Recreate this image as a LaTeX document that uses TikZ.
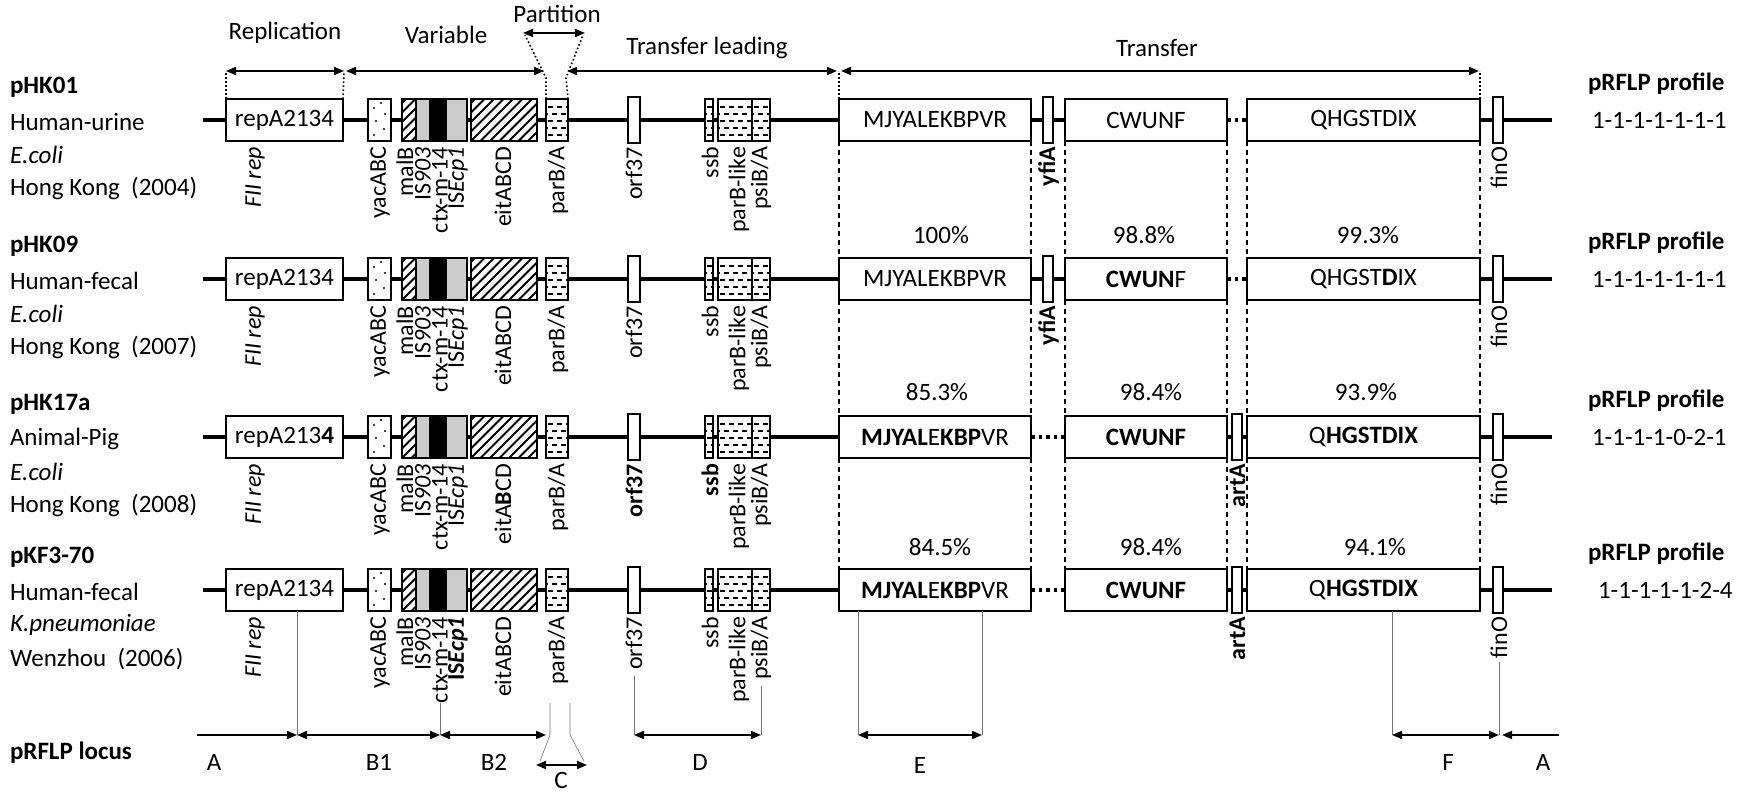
\documentclass[tikz,border=0pt]{standalone}
\usepackage{fontspec}
\setmainfont{Carlito}
\usetikzlibrary{arrows.meta,calc}
\pgfdeclarelayer{bg}
\pgfsetlayers{bg,main}
\begin{document}
\begin{tikzpicture}[x=1pt,y=-1pt,
  every node/.style={inner sep=0pt, outer sep=0pt, font=\fontsize{25}{28}\selectfont},
  bb/.style={line width=3.6pt},
  gene/.style={draw, line width=1.5pt, fill=white, minimum height=42pt, anchor=west},
  sgene/.style={draw, line width=1.5pt, fill=white, minimum height=46pt, anchor=west},
  glab/.style={rotate=90, anchor=east, font=\fontsize{24}{24}\selectfont},
  hatch/.style={path picture={\foreach \k in {-6,...,10}{\draw[black, line width=2pt] ([xshift=\k*9.5]path picture bounding box.south west) -- ++(60,-60);}}},
  dotsfill/.style={path picture={\foreach \a/\b in {6/6,16/12,8/20,17/27,6/33,13/38}{\fill[black] ([xshift=\a,yshift=\b]path picture bounding box.south west) circle (1.2pt);}}},
  dashfill/.style={path picture={
     \foreach \r in {6,20,34}{\draw[black, line width=1.1pt, dash pattern=on 5pt off 4pt] ([xshift=2,yshift=\r]path picture bounding box.south west) -- ++(60,0);}
     \foreach \r in {13,27}{\draw[black, line width=1.1pt, dash pattern=on 5pt off 4pt] ([xshift=-3,yshift=\r]path picture bounding box.south west) -- ++(60,0);}}},
  compfill/.style={path picture={
     \fill[black!20] ([xshift=14]path picture bounding box.south west) rectangle (path picture bounding box.north east);
     \fill[black] ([xshift=27]path picture bounding box.south west) rectangle ([xshift=45]path picture bounding box.north west);
     \begin{scope}
       \clip (path picture bounding box.south west) rectangle ([xshift=14]path picture bounding box.north west);
       \foreach \k in {-5,...,2}{\draw[black, line width=2pt] ([xshift=\k*9.5]path picture bounding box.south west) -- ++(60,-60);}
     \end{scope}
     \draw[black, line width=1.2pt] ([xshift=14]path picture bounding box.south west) -- ([xshift=14]path picture bounding box.north west);}},
  dotline/.style={line width=1.6pt, dash pattern=on 1.6pt off 2.4pt},
  dashline/.style={line width=1.1pt, dash pattern=on 5pt off 4pt},
  conn/.style={line width=3.6pt, dash pattern=on 3.6pt off 4pt},
  arr/.style={line width=1.8pt, {Triangle[length=10pt,width=8pt]}-{Triangle[length=10pt,width=8pt]}},
  arrr/.style={line width=1.8pt, -{Triangle[length=10pt,width=8pt]}},
  lline/.style={line width=0.6pt, black!55},
  bfn/.style={font=\bfseries\fontsize{25}{28}\selectfont}
]
\useasboundingbox (0,0) rectangle (1738,794);

% ---------------- rows ----------------
\foreach \i/\y/\rt/\ect/\et/\ot/\st/\mt/\ct/\qt in {
 1/120/{repA2134}/{IS\textit{Ecp1}}/{eitABCD}/{orf37}/{ssb}/{MJYALEKBPVR}/{CWUNF}/{QHGSTDIX},
 2/279/{repA2134}/{IS\textit{Ecp1}}/{eitABCD}/{orf37}/{ssb}/{MJYALEKBPVR}/{\textbf{CWUN}F}/{QHGST\textbf{D}IX},
 3/437/{repA213\textbf{4}}/{IS\textit{Ecp1}}/{eitA\textbf{B}CD}/{\textbf{orf37}}/{\textbf{ssb}}/{\textbf{MJYAL}E\textbf{KBP}VR}/{\textbf{CWUNF}}/{Q\textbf{HGSTDIX}},
 4/590/{repA2134}/{\textbf{IS\textit{Ecp1}}}/{eitABCD}/{orf37}/{ssb}/{\textbf{MJYAL}E\textbf{KBP}VR}/{\textbf{CWUNF}}/{Q\textbf{HGSTDIX}}}{
  \coordinate (s\i) at (203,\y);
  \coordinate (e\i) at (1552,\y);
  \node[gene, minimum width=117pt] (rep\i) at (226,\y) {\rt};
  \node[gene, minimum width=23pt, dotsfill] (yac\i) at (368,\y) {};
  \node[gene, minimum width=65pt, compfill] (cmp\i) at (402,\y) {};
  \node[gene, minimum width=66pt, hatch] (eit\i) at (471,\y) {};
  \node[gene, minimum width=22pt, dashfill] (par\i) at (546,\y) {};
  \node[sgene, minimum width=12pt] (orf\i) at (628,\y) {};
  \node[gene, minimum width=8pt, dashfill] (ssb\i) at (705,\y) {};
  \node[gene, minimum width=34pt, dashfill] (pbl\i) at (718,\y) {};
  \node[gene, minimum width=18pt, dashfill] (psi\i) at (752,\y) {};
  \node[gene, minimum width=192pt] (mj\i) at (839,\y) {\mt};
  \node[gene, minimum width=162pt] (cw\i) at (1065,\y) {\ct};
  \node[gene, minimum width=233pt] (qh\i) at (1247,\y) {\qt};
  \node[sgene, minimum width=10pt] (fin\i) at (1493,\y) {};
  % labels
  \node[glab] (lfii\i) at (255,\y+27) {\textit{FII rep}};
  \node[glab] (lyac\i) at (380,\y+27) {yacABC};
  \node[glab] (lmal\i) at (405,\y+27) {malB};
  \node[glab] (lis\i) at (423,\y+27) {IS\textit{903}};
  \node[glab] (lctx\i) at (440,\y+27) {ctx-m-14};
  \node[glab] (lecp\i) at (458,\y+27) {\ect};
  \node[glab] (leit\i) at (503,\y+27) {\et};
  \node[glab] (lpar\i) at (558,\y+27) {parB/A};
  \node[glab] (lorf\i) at (634,\y+27) {\ot};
  \node[glab] (lssb\i) at (710,\y+27) {\st};
  \node[glab] (lpbl\i) at (739,\y+27) {parB-like};
  \node[glab] (lpsi\i) at (761,\y+27) {psiB/A};
  \node[glab] (lfin\i) at (1499,\y+27) {finO};
}
% rows 1-2: yfiA
\foreach \i in {1,2}{
  \node[sgene, minimum width=10pt] (yfi\i) at (1043,{\i==1?120:279}) {};
  \node[glab, font=\bfseries\fontsize{24}{24}\selectfont] (lyfi\i) at (1048.5,{(\i==1?120:279)+27}) {yfiA};
  \begin{pgfonlayer}{bg}
    \draw[bb] (s\i) -- (cw\i.east);
    \draw[bb] (qh\i.west) -- (e\i);
  \end{pgfonlayer}
  \draw[conn] (cw\i.east) -- (qh\i.west);
}
% rows 3-4: artA
\foreach \i in {3,4}{
  \node[sgene, minimum width=10pt] (art\i) at (1232,{\i==3?437:590}) {};
  \node[glab, font=\bfseries\fontsize{24}{24}\selectfont] (lart\i) at (1237.5,{(\i==3?437:590)+27}) {artA};
  \begin{pgfonlayer}{bg}
    \draw[bb] (s\i) -- (mj\i.east);
    \draw[bb] (cw\i.west) -- (e\i);
  \end{pgfonlayer}
  \draw[conn] (mj\i.east) -- (cw\i.west);
}

% dashed verticals between rows
\foreach \a/\b in {1/2,2/3,3/4}{
  \draw[dashline] (mj\a.south west) -- (mj\b.north west);
  \draw[dashline] (mj\a.south east) -- (mj\b.north east);
  \draw[dashline] (cw\a.south west) -- (cw\b.north west);
  \draw[dashline] (cw\a.south east) -- (cw\b.north east);
  \draw[dashline] (qh\a.south west) -- (qh\b.north west);
  \draw[dashline] (qh\a.south east) -- (qh\b.north east);
}

% left descriptions
\foreach \i/\y/\nm/\src/\sp/\loc in {
 1/120/pHK01/Human-urine/E.coli/{Hong Kong~ (2004)},
 2/279/pHK09/Human-fecal/E.coli/{Hong Kong~ (2007)},
 3/437/pHK17a/Animal-Pig/E.coli/{Hong Kong~ (2008)},
 4/590/pKF3-70/Human-fecal/K.pneumoniae/{Wenzhou~ (2006)}}{
  \node[anchor=west, bfn] (nm\i) at (10,\y-33) {\nm};
  \node[anchor=west] (src\i) at (10,\y+2) {\src};
  \node[anchor=west] (sp\i) at (10,\y+35) {\textit{\sp}};
  \node[anchor=west] (loc\i) at (10,\y+69) {\loc};
}

% right profiles
\node[anchor=west, bfn] (pr1) at (1588,84) {pRFLP profile};
\node[anchor=west] (pn1) at (1592,120) {1-1-1-1-1-1-1};
\node[anchor=west, bfn] (pr2) at (1588,243) {pRFLP profile};
\node[anchor=west] (pn2) at (1592,279) {1-1-1-1-1-1-1};
\node[anchor=west, bfn] (pr3) at (1588,401) {pRFLP profile};
\node[anchor=west] (pn3) at (1592,437) {1-1-1-1-0-2-1};
\node[anchor=west, bfn] (pr4) at (1588,554) {pRFLP profile};
\node[anchor=west] (pn4) at (1598,590) {1-1-1-1-1-2-4};

% percentages
\node (p2a) at (941,235) {100\%};
\node (p2b) at (1144,235) {98.8\%};
\node (p2c) at (1368,235) {99.3\%};
\node (p3a) at (937,392) {85.3\%};
\node (p3b) at (1151,392) {98.4\%};
\node (p3c) at (1366,392) {93.9\%};
\node (p4a) at (940,547) {84.5\%};
\node (p4b) at (1151,547) {98.4\%};
\node (p4c) at (1375,547) {94.1\%};

% ---------------- top region arrows ----------------
\coordinate (repL) at (226,71);
\coordinate (repR) at (344,71);
\coordinate (varL) at (346,71);
\coordinate (varR) at (544,71);
\coordinate (ptL) at (523,33);
\coordinate (ptR) at (585,33);
\coordinate (tlL) at (567,71);
\coordinate (tlR) at (837,71);
\coordinate (trL) at (841,71);
\coordinate (trR) at (1479,71);
\draw[arr] (repL) -- (repR);
\draw[arr] (varL) -- (varR);
\draw[arr] (ptL) -- (ptR);
\draw[arr] (tlL) -- (tlR);
\draw[arr] (trL) -- (trR);
\node (tRep) at (285,33) {Replication};
\node (tVar) at (446,35) {Variable};
\node (tPar) at (557,14) {Partition};
\node (tTl) at (707,48) {Transfer leading};
\node (tTr) at (1157,48) {Transfer};
\draw[dotline] (rep1.north west) -- (repL);
\draw[dotline] (rep1.north east) -- (repR);
\draw[dotline] (par1.north west) -- ++(0,-21) -- ([xshift=2,yshift=-2]ptL);
\draw[dotline] (par1.north east) -- ++(-2,-21) -- ([xshift=-2,yshift=-2]ptR);
\draw[dotline] (mj1.north west) -- (mj1.north west |- repL);
\draw[dotline] (qh1.north east) -- (qh1.north east |- repL);

% ---------------- pRFLP locus ----------------
\node[anchor=west, bfn] (locus) at (10,753) {pRFLP locus};
\coordinate (la0) at (197,735);
\coordinate (la1) at (297,735);
\coordinate (lb1) at (lctx4.west |- la1);
\coordinate (lb2) at (546,735);
\coordinate (lc1t) at (550,703);
\coordinate (lc1m) at (550,735);
\coordinate (lc1b) at (540,761);
\coordinate (lc2t) at (570,703);
\coordinate (lc2m) at (570,735);
\coordinate (lc2b) at (584,761);
\coordinate (lcL) at (536,765);
\coordinate (lcR) at (587,765);
\coordinate (ld1) at (lorf4.west |- la1);
\coordinate (ld2) at (lpsi4.west |- la1);
\coordinate (le1) at (858,735);
\coordinate (le2) at (982,735);
\coordinate (lf1) at (1392,735);
\coordinate (lf2) at (lfin4.west |- la1);
\coordinate (ra0) at (1559,735);

\draw[lline] (rep4.south -| la1) -- (la1);
\draw[lline] (lctx4.west) -- (lb1);
\draw[lline] (lc1t) -- (lc1m) -- (lc1b);
\draw[lline] (lc2t) -- (lc2m) -- (lc2b);
\draw[lline] ([yshift=-6]lorf4.west) -- (ld1);
\draw[lline] ([yshift=-6]lpsi4.west) -- (ld2);
\draw[lline] (mj4.south -| le1) -- (le1);
\draw[lline] (mj4.south -| le2) -- (le2);
\draw[lline] (qh4.south -| lf1) -- (lf1);
\draw[lline] ([yshift=-4]lfin4.west) -- (lf2);

\draw[arrr] (la0) -- (la1);
\draw[arr] (la1) -- (lb1);
\draw[arr] (lb1) -- (lb2);
\draw[arr] (lcL) -- (lcR);
\draw[arr] (ld1) -- (ld2);
\draw[arr] (le1) -- (le2);
\draw[arr] (lf1) -- (lf2);
\draw[arrr] (ra0) -- ([xshift=3]lf2);

\node (tA1) at (214,762) {A};
\node (tB1) at (379,762) {B1};
\node (tB2) at (494,762) {B2};
\node (tC) at (561,780) {C};
\node (tD) at (700,762) {D};
\node (tE) at (920,765) {E};
\node (tF) at (1448,762) {F};
\node (tA2) at (1543,762) {A};
\end{tikzpicture}
\end{document}
